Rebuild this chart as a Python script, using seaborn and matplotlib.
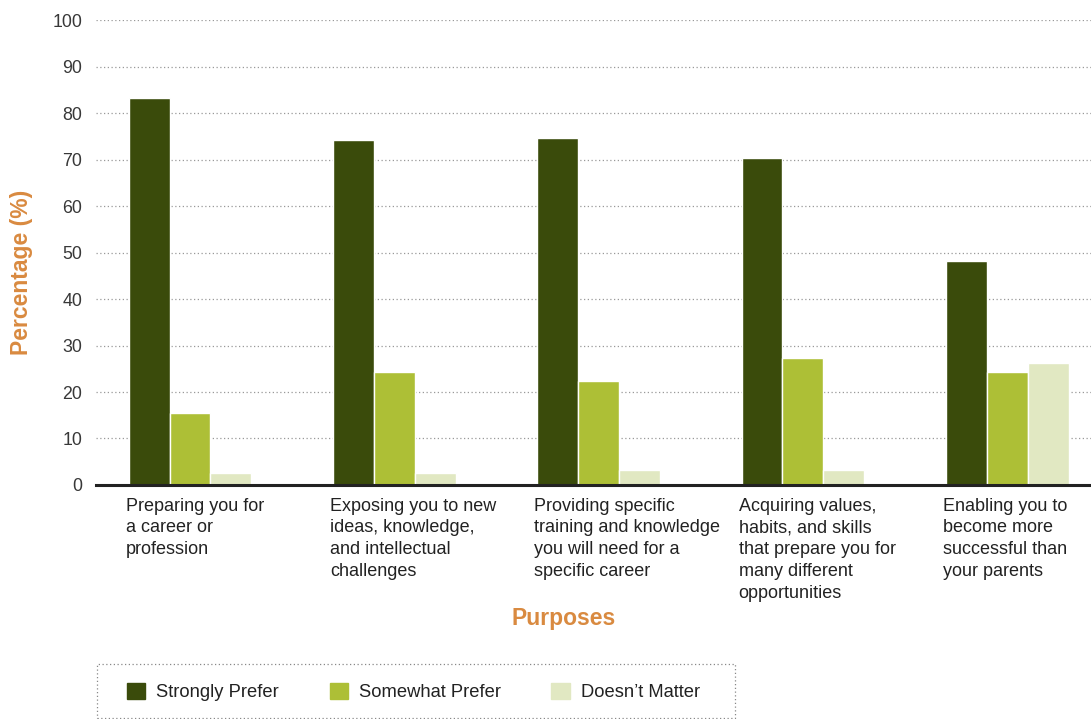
import matplotlib
matplotlib.use("Agg")
import matplotlib.pyplot as plt
import matplotlib.transforms as mtransforms
import seaborn as sns
import pandas as pd

# -------------------------
# Data
# -------------------------
purposes = [
    "Preparing you for\na career or\nprofession",
    "Exposing you to new\nideas, knowledge,\nand intellectual\nchallenges",
    "Providing specific\ntraining and knowledge\nyou will need for a\nspecific career",
    "Acquiring values,\nhabits, and skills\nthat prepare you for\nmany different\nopportunities",
    "Enabling you to\nbecome more\nsuccessful than\nyour parents",
]
responses = ["Strongly Prefer", "Somewhat Prefer", "Doesn\u2019t Matter"]
strongly = [83.2, 74.2, 74.6, 70.3, 48.1]
somewhat = [15.5, 24.4, 22.4, 27.3, 24.4]
doesnt_matter = [2.6, 2.6, 3.2, 3.2, 26.3]
colors = ["#3a4b0b", "#adbf36", "#e1e8c2"]
y_ticks = list(range(0, 101, 10))

rows = []
for i, p in enumerate(purposes):
    for r, vals in zip(responses, [strongly, somewhat, doesnt_matter]):
        rows.append({"Purpose": p, "Response": r, "Value": vals[i]})
df = pd.DataFrame(rows)

# -------------------------
# Plot
# -------------------------
sns.set_style("white")
plt.rcParams["font.family"] = ["Liberation Sans", "DejaVu Sans"]

orange = "#d98a40"
W, H = 1091, 719
fig = plt.figure(figsize=(W / 100, H / 100), dpi=100)
ax = fig.add_axes([0.088, 0.3255, 0.912, 0.6463])

sns.barplot(data=df, x="Purpose", y="Value", hue="Response",
            palette=colors, width=0.6, saturation=1, ax=ax,
            legend=False, zorder=3)

ax.set_ylim(0, 100)
ax.set_xlim(-0.46, 4.41)
ax.set_yticks(y_ticks)
ax.set_yticklabels([str(t) for t in y_ticks], fontsize=12.8, color="#383838")
ax.tick_params(axis="y", length=0, pad=10)
ax.yaxis.grid(True, linestyle=(0, (1, 2)), color="#999999", linewidth=0.9, zorder=0)
ax.set_axisbelow(True)
for s in ["top", "right", "left"]:
    ax.spines[s].set_visible(False)
ax.spines["bottom"].set_color("#222222")
ax.spines["bottom"].set_linewidth(2.2)
ax.spines["bottom"].set_zorder(5)

# category labels, left-aligned at start of each group
ax.set_xticks([])
ax.set_xlabel("")
ax.set_ylabel("")
trans = mtransforms.blended_transform_factory(ax.transData, ax.transAxes)
for i, p in enumerate(purposes):
    ax.text(i - 0.315, -0.027, p, transform=trans, ha="left", va="top",
            fontsize=13, color="#222222", linespacing=1.38)

fig.text(22 / W, 1 - 272 / H, "Percentage (%)", rotation=90, ha="center",
         va="center", fontsize=16.5, fontweight="bold", color=orange)
fig.text(564 / W, 1 - 618 / H, "Purposes", ha="center", va="center",
         fontsize=16.5, fontweight="bold", color=orange)

# legend (frameless) + dotted box
handles = [plt.Rectangle((0, 0), 1, 1, color=c) for c in colors]
leg = fig.legend(handles, responses, loc="center left",
                 bbox_to_anchor=(127 / W, 1 - 692 / H), ncol=3,
                 frameon=False, fontsize=13.2, handlelength=1.0,
                 handleheight=1.0, handletextpad=0.6, columnspacing=2.75,
                 borderaxespad=0, borderpad=0)
for t in leg.get_texts():
    t.set_color("#222222")
box = plt.Rectangle((97 / W, 1 - 718 / H), (735 - 97) / W, (718 - 664) / H,
                    transform=fig.transFigure, fill=False,
                    edgecolor="#888888", linewidth=0.9, linestyle=(0, (1, 2)))
fig.patches.append(box)

fig.savefig("out.png", dpi=100)
